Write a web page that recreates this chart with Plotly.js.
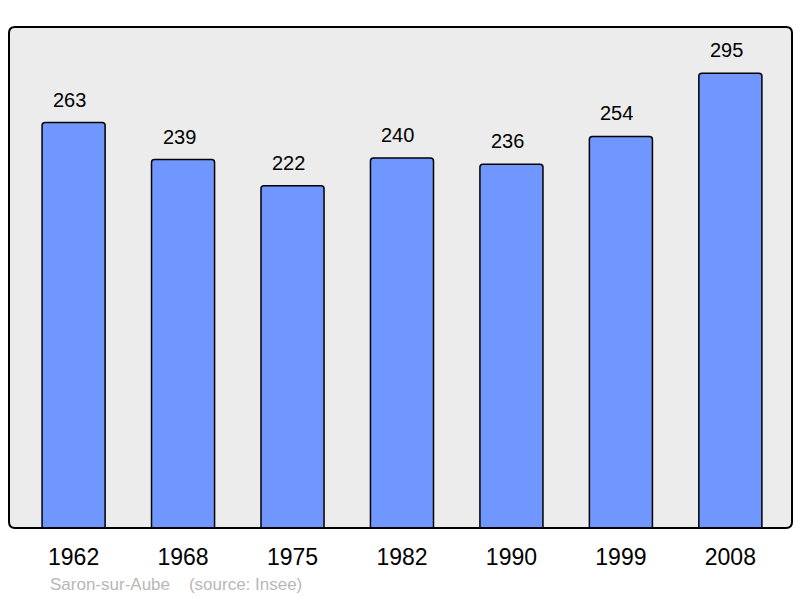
<!DOCTYPE html>
<html><head><meta charset="utf-8">
<script src="https://cdn.plot.ly/plotly-3.0.1.min.js"></script>
<style>html,body{margin:0;padding:0;background:#fff;}#chart{width:800px;height:598px;}</style>
</head><body><div id="chart"></div>
<script>
var years = ["1962","1968","1975","1982","1990","1999","2008"];
var population = [263,239,222,240,236,254,295];
var footerText = "Saron-sur-Aube &nbsp;&nbsp;&nbsp;(source: Insee)";

var trace = {
  type: 'bar',
  x: years.map(function(_, i){ return i; }),
  y: population,
  width: 0.576,
  marker: {color: '#7097ff', line: {color: '#000', width: 1.5}, cornerradius: 3},
  hoverinfo: 'none'
};

var annotations = population.map(function(v, i){
  return {x: i, y: v, xref: 'x', yref: 'y', text: String(v), showarrow: false,
    yanchor: 'bottom', yshift: 10, xshift: -4, font: {family: 'Liberation Sans, Arial, sans-serif', size: 20, color: '#000'}};
});
annotations.push({xref: 'paper', yref: 'paper', x: 0.05, y: -0.112, xanchor: 'left', yanchor: 'middle',
  text: footerText, showarrow: false, font: {family: 'Liberation Sans, Arial, sans-serif', size: 17, color: '#b8b8b8'}});

// rounded frame (paper units)
var rx = 6 / 783, ry = 6 / 501;
var framePath = 'M ' + rx + ',0 L ' + (1 - rx) + ',0 Q 1,0 1,' + ry +
  ' L 1,' + (1 - ry) + ' Q 1,1 ' + (1 - rx) + ',1 L ' + rx + ',1 Q 0,1 0,' + (1 - ry) +
  ' L 0,' + ry + ' Q 0,0 ' + rx + ',0 Z';

var layout = {
  width: 800, height: 598,
  margin: {l: 9, r: 8, t: 27, b: 70},
  paper_bgcolor: '#fff',
  plot_bgcolor: 'rgba(0,0,0,0)',
  showlegend: false,
  xaxis: {range: [-0.59, 6.563], tickmode: 'array', tickvals: years.map(function(_, i){ return i; }), ticktext: years,
    showgrid: false, zeroline: false, showline: false, ticks: 'outside', ticklen: 8, tickcolor: 'rgba(0,0,0,0)',
    tickfont: {family: 'Liberation Sans, Arial, sans-serif', size: 23, color: '#000'}, fixedrange: true},
  yaxis: {range: [0, 325], showgrid: false, zeroline: false, showline: false, showticklabels: false, fixedrange: true},
  shapes: [
    {type: 'path', xref: 'paper', yref: 'paper', path: framePath, fillcolor: '#ececec', line: {width: 0}, layer: 'below'},
    {type: 'path', xref: 'paper', yref: 'paper', path: framePath, line: {color: '#000', width: 2}, layer: 'above'}
  ],
  annotations: annotations
};

Plotly.newPlot('chart', [trace], layout, {staticPlot: true});
</script></body></html>
